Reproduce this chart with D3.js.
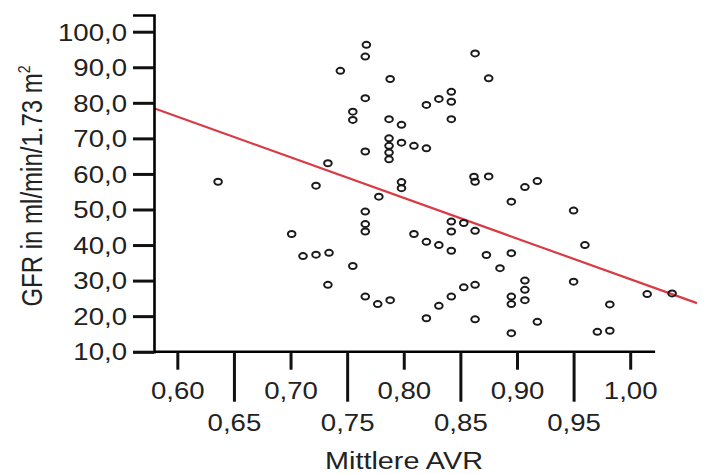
<!DOCTYPE html>
<html>
  <head>
    <title>GFR vs AVR</title>
    <script src="https://d3js.org/d3.v7.min.js" charset="utf-8"></script>
    <style>
    body {
        margin: 0;
        background: white;
        font-family: "Liberation Sans", Arial, sans-serif;
    }
    .tick text {
        fill: #222;
    }
    </style>
  </head>

  <body>
    <script>
// Mittlere AVR (x) and GFR (y)
var avr = [0.636, 0.7225, 0.733, 0.744, 0.767, 0.766, 0.788, 0.766, 0.755, 0.755,
           0.787, 0.798, 0.820, 0.831, 0.842, 0.842, 0.842, 0.787, 0.798, 0.809,
           0.820, 0.787, 0.787, 0.787, 0.766, 0.798, 0.798, 0.863, 0.875, 0.862,
           0.863, 0.875, 0.907, 0.918, 0.895, 0.950, 0.853, 0.863, 0.842, 0.842,
           0.960, 0.873, 0.895, 0.885, 0.853, 0.863, 0.907, 0.907, 0.895, 0.907,
           0.895, 0.950, 1.015, 1.037, 0.982, 0.863, 0.918, 0.895, 0.971, 0.982,
           0.778, 0.766, 0.766, 0.766, 0.701, 0.711, 0.7225, 0.734, 0.733, 0.755,
           0.809, 0.820, 0.831, 0.842, 0.766, 0.777, 0.788, 0.820, 0.831, 0.842];
var gfr = [57.8, 56.7, 63.0, 89.0, 96.3, 93.0, 86.7, 81.3, 77.5, 75.2,
           75.4, 73.8, 79.4, 81.1, 83.1, 80.3, 75.4, 70.0, 68.8, 67.9,
           67.2, 67.9, 66.0, 64.1, 66.3, 57.7, 56.0, 93.9, 86.9, 59.2,
           57.8, 59.3, 56.3, 58.0, 52.2, 49.7, 46.2, 44.0, 46.6, 43.8,
           40.0, 37.2, 37.7, 33.5, 28.1, 28.8, 30.0, 27.4, 25.5, 24.5,
           23.4, 29.7, 26.2, 26.4, 23.3, 19.1, 18.4, 15.2, 15.6, 15.9,
           53.6, 49.4, 45.9, 43.8, 43.1, 36.9, 37.3, 37.8, 28.8, 34.1,
           43.1, 40.9, 40.0, 38.4, 25.5, 23.4, 24.5, 19.4, 22.9, 25.5];

var xTicks = [0.60, 0.65, 0.70, 0.75, 0.80, 0.85, 0.90, 0.95, 1.00];
var yTicks = [10, 20, 30, 40, 50, 60, 70, 80, 90, 100];

// linear fit line
var fitIntercept = 144.7;
var fitSlope = -114.3;

var width = 706;
var height = 474;
var xMin = 0.5794, xMax = 1.059, xAxisEnd = 1.022;
var yMin = 10, yMax = 104.7;

var svg = d3.select("body")
  .append("svg")
  .attr("width", width)
  .attr("height", height);

var x = d3.scaleLinear().domain([xMin, xMax]).range([154, 697]);
var y = d3.scaleLinear().domain([yMin, yMax]).range([351.7, 15]);

var comma = function(f) { return function(d) { return d3.format(f)(d).replace(".", ","); }; };

// regression line
svg.append("line")
  .attr("x1", x(xMin))
  .attr("y1", y(fitIntercept + fitSlope * xMin))
  .attr("x2", x(xMax))
  .attr("y2", y(fitIntercept + fitSlope * xMax))
  .attr("stroke", "#d93a44")
  .attr("stroke-width", 2.2);

// points
svg.append("g")
  .selectAll("ellipse")
  .data(avr)
  .enter()
  .append("ellipse")
  .attr("cx", function(d) { return x(d); })
  .attr("cy", function(d, i) { return y(gfr[i]); })
  .attr("rx", 3.8)
  .attr("ry", 3)
  .attr("fill", "none")
  .attr("stroke", "#1a1a1a")
  .attr("stroke-width", 2);

// x axis
var gx = svg.append("g")
  .attr("transform", "translate(0," + y(yMin) + ")")
  .call(d3.axisBottom(x).tickValues(xTicks).tickFormat(comma(".2f")).tickSizeOuter(0));

gx.select(".domain")
  .attr("d", "M" + x(xMin) + ",0H" + x(xAxisEnd))
  .attr("stroke", "#000")
  .attr("stroke-width", 2.6);

gx.selectAll(".tick line")
  .attr("stroke", "#111")
  .attr("stroke-width", 3)
  .attr("y2", function(d, i) { return i % 2 ? 50 : 18; });

gx.selectAll(".tick text")
  .attr("font-size", 23)
  .attr("font-family", "Liberation Sans, Arial, sans-serif")
  .attr("y", function(d, i) { return i % 2 ? 71 : 39; })
  .attr("dy", "0.36em")
  .attr("transform", "scale(1.2,1)");

// y axis
var gy = svg.append("g")
  .attr("transform", "translate(" + x(xMin) + ",0)")
  .call(d3.axisLeft(y).tickValues(yTicks).tickFormat(comma(".1f")).tickSizeOuter(0).tickSize(21));

gy.select(".domain")
  .attr("stroke", "#000")
  .attr("stroke-width", 2.6);

gy.selectAll(".tick line")
  .attr("stroke", "#111")
  .attr("stroke-width", 3);

gy.selectAll(".tick text")
  .attr("font-size", 23)
  .attr("font-family", "Liberation Sans, Arial, sans-serif")
  .attr("x", -27 / 1.2)
  .attr("dy", "0.36em")
  .attr("transform", "scale(1.2,1)");

// axis titles
svg.append("text")
  .attr("transform", "translate(404,460) scale(1.2,1)")
  .attr("text-anchor", "middle")
  .attr("dy", "0.36em")
  .attr("font-size", 24)
  .attr("fill", "#222")
  .text("Mittlere AVR");

var yl = svg.append("text")
  .attr("transform", "translate(31.7,186) rotate(-90) scale(1.0,1.2)")
  .attr("text-anchor", "middle")
  .attr("dy", "0.36em")
  .attr("font-size", 24)
  .attr("fill", "#222");
yl.append("tspan").text("GFR in ml/min/1.73 m");
yl.append("tspan").attr("font-size", 14).attr("dy", "-0.7em").text("2");
    </script>
  </body>
</html>
